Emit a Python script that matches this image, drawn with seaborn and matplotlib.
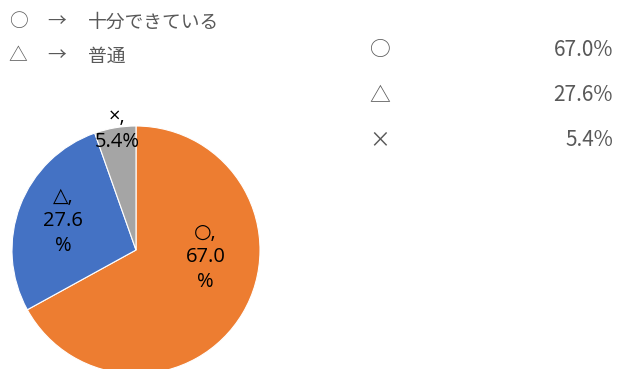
import matplotlib
matplotlib.use("Agg")
import matplotlib.pyplot as plt
import seaborn as sns

# データ
categories = ["○", "△", "×"]
shares = [67.0, 27.6, 5.4]
legend_notes = [("○", "十分できている"), ("△", "普通")]

sns.set_theme(style="white")
plt.rcParams['font.family'] = ['Noto Sans CJK JP', 'DejaVu Sans']

colors = ["#ED7D31", "#4472C4", "#A5A5A5"]
grey_text = "#595959"

fig = plt.figure(figsize=(6.17, 3.69), dpi=100)

# 円グラフ
cx, cy, r = 136, 250, 124
ax = fig.add_axes([(cx - r) / 617, (369 - cy - r) / 369, 2 * r / 617, 2 * r / 369])
ax.pie(shares, colors=colors, startangle=90, counterclock=False,
       wedgeprops=dict(edgecolor="white", linewidth=0.8))
ax.set_xlim(-1, 1)
ax.set_ylim(-1, 1)
ax.set_aspect("equal")
ax.axis("off")

label_pos = [(0.56, -0.06), (-0.59, 0.23), (-0.15, 0.97)]
label_txt = [f"{c},\n{v:.1f}\n%" for c, v in zip(categories[:2], shares[:2])]
label_txt.append(f"{categories[2]},\n{shares[2]:.1f}%")
for (x, y), t in zip(label_pos, label_txt):
    ax.text(x, y, t, ha="center", va="center", fontsize=14.5, color="black",
            linespacing=1.3, family=['Open Sans', 'DejaVu Sans'], clip_on=False)

# 左上の凡例
for i, (sym, note) in enumerate(legend_notes):
    y = 1 - (22 + 34 * i) / 369
    fig.text(18 / 617, y, sym, ha="center", va="center", fontsize=13.5, color=grey_text)
    fig.text(57 / 617, y, "→", ha="center", va="center", fontsize=13.5, color=grey_text)
    fig.text(88 / 617, y, note, ha="left", va="center", fontsize=13.5, color=grey_text)

# 右側の表
for i, (c, v) in enumerate(zip(categories, shares)):
    y = 1 - (50 + 45 * i) / 369
    fig.text(380 / 617, y, c, ha="center", va="center", fontsize=15, color=grey_text)
    fig.text(613 / 617, y, f"{v:.1f}%", ha="right", va="center", fontsize=15, color=grey_text)

fig.savefig("out.png", dpi=100)
